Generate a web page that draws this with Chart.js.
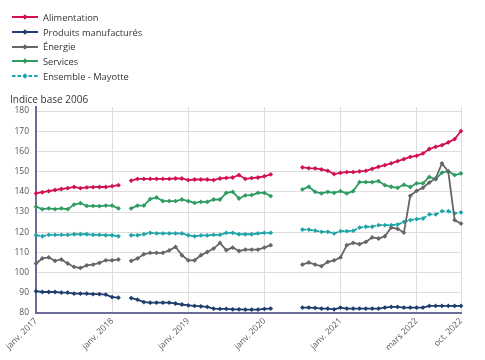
<!DOCTYPE html>
<html lang="fr">
<head>
<meta charset="utf-8">
<script src="https://cdn.jsdelivr.net/npm/chart.js@4.4.1/dist/chart.umd.min.js"></script>
<style>
  html, body { margin: 0; padding: 0; background: #fff; }
  body { width: 485px; height: 360px; position: relative; overflow: hidden; font-family: "Open Sans", sans-serif; }
  #c { position: absolute; left: 0; top: 0; }
  #legend { position: absolute; left: 12px; top: 10px; }
  .item { height: 14.7px; display: flex; align-items: center; font-size: 9.3px; color: #333; white-space: nowrap; }
  .item svg { margin-right: 5px; flex: none; }
  #ytitle { position: absolute; left: 10px; top: 92px; font-size: 10px; color: #333; }
</style>
</head>
<body>
<canvas id="c" width="485" height="360"></canvas>
<div id="legend"></div>
<div id="ytitle">Indice base 2006</div>
<script>
// ---- Data ----
const categories = [
  'janv. 2017','févr. 2017','mars 2017','avr. 2017','mai 2017','juin 2017','juil. 2017','août 2017','sept. 2017','oct. 2017','nov. 2017','déc. 2017',
  'janv. 2018','févr. 2018','mars 2018','avr. 2018','mai 2018','juin 2018','juil. 2018','août 2018','sept. 2018','oct. 2018','nov. 2018','déc. 2018',
  'janv. 2019','févr. 2019','mars 2019','avr. 2019','mai 2019','juin 2019','juil. 2019','août 2019','sept. 2019','oct. 2019','nov. 2019','déc. 2019',
  'janv. 2020','févr. 2020','mars 2020','avr. 2020','mai 2020','juin 2020','juil. 2020','août 2020','sept. 2020','oct. 2020','nov. 2020','déc. 2020',
  'janv. 2021','févr. 2021','mars 2021','avr. 2021','mai 2021','juin 2021','juil. 2021','août 2021','sept. 2021','oct. 2021','nov. 2021','déc. 2021',
  'mars 2022','avr. 2022','mai 2022','juin 2022','juil. 2022','août 2022','sept. 2022','oct. 2022'
];
const shownTicks = ['janv. 2017','janv. 2018','janv. 2019','janv. 2020','janv. 2021','mars 2022','oct. 2022'];
const yTickValues = [80, 90, 100, 110, 120, 130, 140, 150, 160, 170, 180];

const alimentation = [
  139.2,139.8,140.3,140.9,141.4,141.8,142.4,141.8,142.2,142.3,142.4,142.4,142.8,143.3,
  null,
  145.5,146.4,146.4,146.4,146.4,146.4,146.4,146.6,146.6,145.8,146.1,146.1,146.1,145.8,146.6,146.9,147.1,148.3,146.4,146.8,147.1,147.7,148.6,
  null,null,null,null,
  152.1,151.7,151.6,151.1,150.4,148.8,149.4,149.8,149.8,150.1,150.4,151.4,152.4,153.2,154.1,155.2,156.2,157.3,157.8,159.0,161.2,162.3,163.1,164.5,166.1,170.1
];
const produitsManufactures = [
  90.8,90.4,90.4,90.4,90.1,90.1,89.6,89.6,89.6,89.3,89.3,89.1,87.9,87.6,
  null,
  87.4,86.6,85.4,85.1,85.1,85.1,85.1,84.7,84.2,83.8,83.5,83.3,83.0,82.2,82.0,82.0,81.8,81.8,81.7,81.7,81.7,82.0,82.2,
  null,null,null,null,
  82.7,82.7,82.5,82.2,82.2,81.8,82.7,82.2,82.2,82.2,82.2,82.2,82.2,82.7,83.0,83.0,82.7,82.7,82.7,82.7,83.5,83.5,83.5,83.5,83.5,83.5
];
const energie = [
  104.5,107.0,107.5,105.8,106.5,104.5,102.8,102.3,103.6,104.0,104.8,106.1,106.1,106.5,
  null,
  105.8,107.0,109.1,109.8,109.8,109.8,111.0,112.7,108.6,106.1,106.1,108.6,110.2,111.9,114.7,111.1,112.4,110.7,111.4,111.4,111.4,112.4,113.6,
  null,null,null,null,
  104.0,105.0,104.0,103.2,105.3,106.1,107.5,113.6,114.7,114.1,115.2,117.4,116.9,118.0,122.3,121.7,119.8,138.0,140.5,142.0,144.6,146.6,154.1,149.9,126.0,124.3
];
const services = [
  132.6,131.4,131.8,131.4,131.8,131.4,133.7,134.4,133.0,133.0,132.9,133.2,133.2,131.8,
  null,
  131.8,133.2,133.2,136.4,137.2,135.4,135.4,135.4,136.2,135.4,134.5,135.0,135.0,136.2,136.2,139.5,140.0,136.7,138.2,138.4,139.5,139.5,137.9,
  null,null,null,null,
  141.2,142.5,140.0,139.2,140.0,139.5,140.3,139.2,140.3,144.8,144.8,144.8,145.3,143.3,142.5,142.0,143.5,142.4,144.2,144.2,147.4,146.2,149.5,150.2,148.3,149.1
];
const ensembleMayotte = [
  118.5,118.0,118.7,118.7,118.7,118.7,119.0,119.0,119.0,118.7,118.7,118.5,118.5,118.0,
  null,
  118.5,118.5,119.0,119.7,119.4,119.4,119.4,119.4,119.4,118.5,118.0,118.4,118.4,118.7,118.7,119.7,119.7,119.0,119.0,119.0,119.4,119.7,119.7,
  null,null,null,null,
  121.3,121.3,120.8,120.2,120.2,119.4,120.5,120.5,120.7,122.3,122.7,122.7,123.5,123.5,123.5,123.8,125.1,126.0,126.5,126.8,128.8,128.8,130.4,130.4,129.3,129.8
];

const seriesNames = ['Alimentation','Produits manufacturés','Énergie','Services','Ensemble - Mayotte'];
const seriesColors = ['#d1124f','#1f3d6d','#666666','#2f9c62','#1fa5a8'];
const seriesValues = [alimentation, produitsManufactures, energie, services, ensembleMayotte];
const seriesDashed = [false,false,false,false,true];

const datasets = seriesNames.map((name, i) => ({
  label: name,
  data: seriesValues[i],
  borderColor: seriesColors[i],
  backgroundColor: seriesColors[i],
  borderWidth: 1.8,
  borderDash: seriesDashed[i] ? [4, 2.5] : [],
  pointStyle: 'rectRot',
  pointRadius: 2.4,
  pointBorderWidth: 0,
  pointBackgroundColor: seriesColors[i],
  spanGaps: false,
  tension: 0,
  fill: false
}));

// HTML legend
const legendEl = document.getElementById('legend');
seriesNames.forEach((name, i) => {
  const d = document.createElement('div');
  d.className = 'item';
  const dash = seriesDashed[i] ? ' stroke-dasharray="3.5,2"' : '';
  d.innerHTML = '<svg width="26" height="10"><line x1="0" y1="5" x2="26" y2="5" stroke="' + seriesColors[i] + '" stroke-width="2"' + dash + '/>' +
    '<polygon points="13,2.3 15.7,5 13,7.7 10.3,5" fill="' + seriesColors[i] + '"/></svg>';
  const s = document.createElement('span');
  s.textContent = name;
  d.appendChild(s);
  legendEl.appendChild(d);
});

new Chart(document.getElementById('c'), {
  type: 'line',
  data: { labels: categories, datasets: datasets },
  options: {
    responsive: false,
    animation: false,
    devicePixelRatio: 1,
    layout: { padding: { top: 107, right: 24, left: 0, bottom: 0 } },
    plugins: { legend: { display: false }, title: { display: false }, tooltip: { enabled: false } },
    scales: {
      x: {
        type: 'category',
        offset: false,
        afterBuildTicks(axis) {
          axis.ticks = axis.ticks.filter(t => shownTicks.includes(categories[t.value]));
        },
        afterFit(scale) { scale.height = 47; },
        ticks: { autoSkip: false, minRotation: 45, maxRotation: 45, color: '#555', font: { family: 'Open Sans', size: 8.5 }, padding: 3 },
        grid: { color: '#dddddd', lineWidth: 1, drawTicks: false },
        border: { color: '#6c6c9c', width: 2 }
      },
      y: {
        min: 80,
        max: 182,
        afterBuildTicks(axis) {
          axis.ticks = yTickValues.map(v => ({ value: v }));
        },
        afterFit(scale) { scale.width = 36; },
        ticks: { color: '#555', font: { family: 'Open Sans', size: 8.5 }, padding: 7 },
        grid: { color: '#dddddd', lineWidth: 1, drawTicks: false },
        border: { color: '#6c6c9c', width: 2 }
      }
    }
  }
});
</script>
</body>
</html>
